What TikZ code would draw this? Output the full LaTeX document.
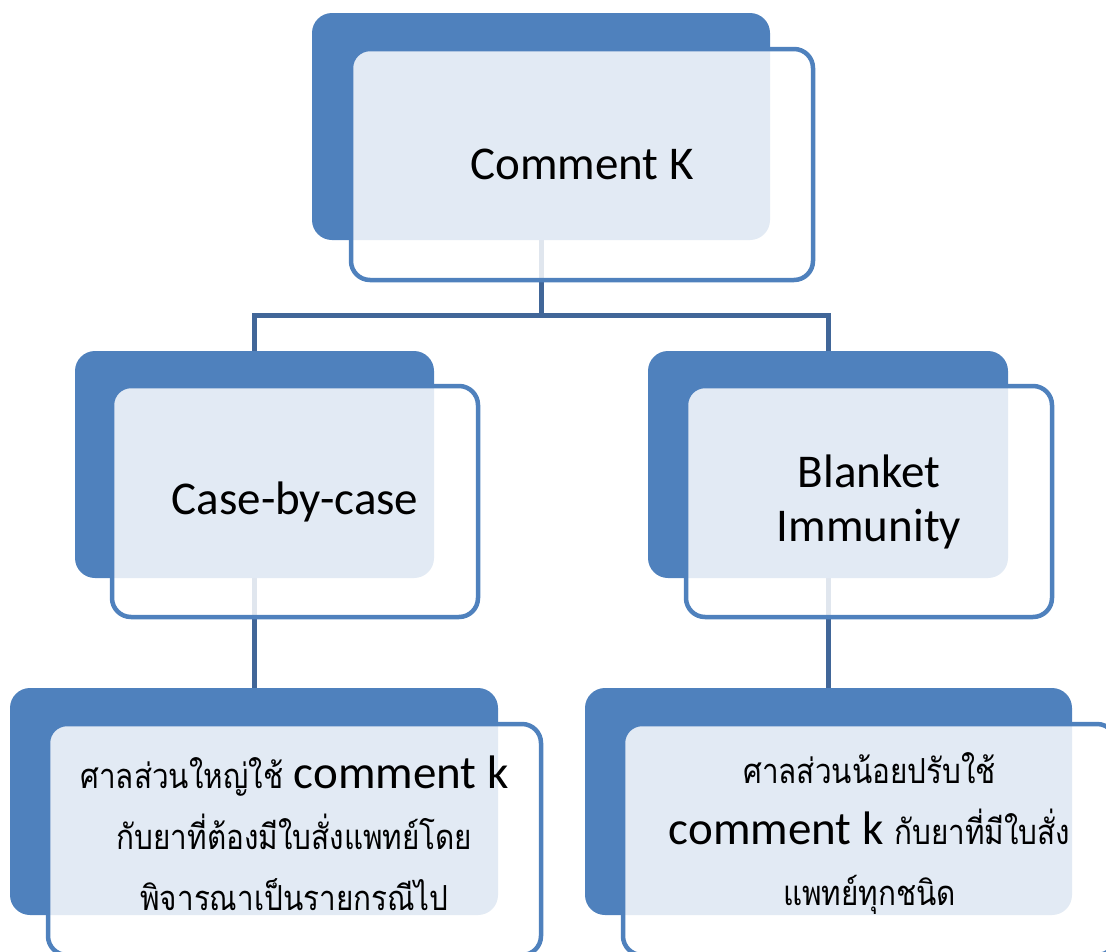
\documentclass[tikz,border=0pt]{standalone}
\usepackage{fontspec}
\usetikzlibrary{calc}
\setmainfont{Carlito}
\newfontfamily\thaifont[Script=Thai,FakeStretch=0.86]{Loma}
\definecolor{boxblue}{RGB}{79,129,189}
\definecolor{connblue}{RGB}{65,102,152}
\pgfdeclarelayer{bg}
\pgfsetlayers{bg,main}
\newcommand{\thtxt}[1]{{\thaifont\fontsize{34.5}{60}\selectfont #1}}
\tikzset{
  backbox/.style={fill=boxblue, draw=none, rounded corners=20pt, anchor=north west,
    inner sep=0pt, outer sep=0pt, minimum height=227pt},
  frontbox/.style={fill=white, fill opacity=0.84, text opacity=1, draw=boxblue, draw opacity=1,
    line width=4.5pt, rounded corners=19pt, anchor=north west, inner sep=0pt, outer sep=0pt,
    minimum height=231pt, align=center, font=\fontsize{47}{54}\selectfont},
  bottomtext/.style={font=\fontsize{47}{61}\selectfont, align=center, inner sep=0pt},
  conn/.style={draw=connblue, line width=5pt},
}
\begin{document}
\begin{tikzpicture}[x=1pt,y=-1pt]
\useasboundingbox (0,0) rectangle (1106,951);
\clip (0,0) rectangle (1106,951);
% top
\node[backbox, minimum width=458pt] (tb) at (312,13) {};
\node[frontbox, minimum width=462pt] (tf) at (351,49) {Comment K};
% middle
\node[backbox, minimum width=359pt] (lb) at (75,351) {};
\node[frontbox, minimum width=366pt] (lf) at (112,386) {Case-by-case};
\node[backbox, minimum width=360pt] (rb) at (648,351) {};
\node[frontbox, minimum width=366pt] (rf) at (686,386) {Blanket\\Immunity};
% bottom
\node[backbox, minimum width=488pt] (blb) at (10,688) {};
\node[frontbox, minimum width=493pt] (blf) at (48,724) {};
\node[bottomtext] (blt) at ([yshift=6pt]blf.center)
  {\thtxt{ศาลส่วนใหญ่ใช้} comment k\\\thtxt{กับยาที่ต้องมีใบสั่งแพทย์โดย}\\\thtxt{พิจารณาเป็นรายกรณีไป}};
\node[backbox, minimum width=487pt] (brb) at (585,688) {};
\node[frontbox, minimum width=493pt] (brf) at (623,724) {};
\node[bottomtext] (brt) at ([yshift=6pt]brf.center)
  {\thtxt{ศาลส่วนน้อยปรับใช้}\\comment k \thtxt{กับยาที่มีใบสั่ง}\\\thtxt{แพทย์ทุกชนิด}};
% connectors
\begin{pgfonlayer}{bg}
\coordinate (j) at ($(tb.south)+(0,75)$);
\draw[conn] (tb.south) -- (j);
\draw[conn] (lb.north) |- (j) -| (rb.north);
\draw[conn] (lb.south) -- (lb.south |- blb.north);
\draw[conn] (rb.south) -- (rb.south |- brb.north);
\end{pgfonlayer}
\end{tikzpicture}
\end{document}
